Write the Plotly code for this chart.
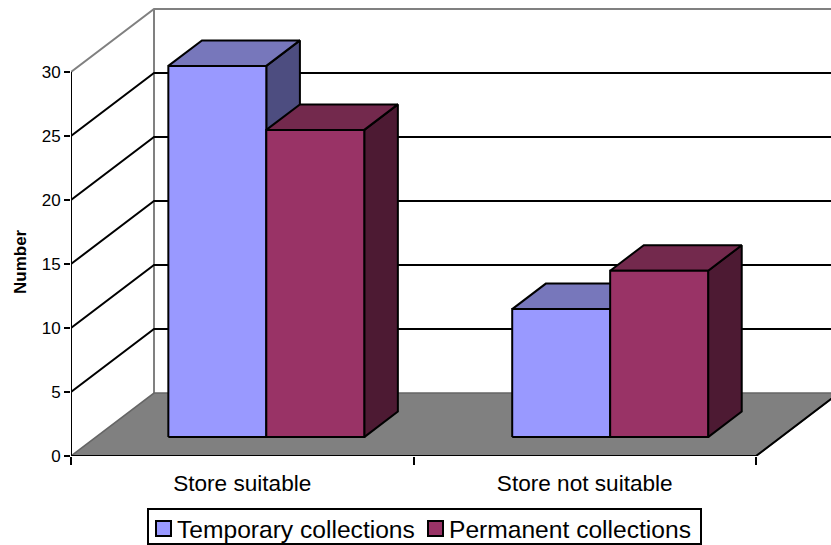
import plotly.graph_objects as go

categories = ["Store suitable", "Store not suitable"]
temporary = [29, 10]
permanent = [24, 13]
y_ticks = [0, 5, 10, 15, 20, 25, 30]
series_names = ["Temporary collections", "Permanent collections"]

FRONT = ["#9999FF", "#993366"]
TOP = ["#7777BB", "#73294D"]
SIDE = ["#4D4D80", "#4D1A33"]
FONT = "Liberation Sans"
DX = 83 / 342.5   # wall depth, x units
DY = 63 / 12.8    # wall depth, value units
GAP, BAR, PITCH = 0.2115, 0.286, 1.004
D0, D1 = 0.30, 0.705
YMAX = y_ticks[-1]
PLOT_W, PLOT_H, LEFT = 760, 456, 71


def pr(x, v, d):
    return x + d * DX, v + d * DY


def px(x):
    return (x - LEFT) / PLOT_W


def py(y):
    return (PLOT_H - y) / PLOT_H


def poly(pts, fill=None, color="black", width=2):
    xs, ys = zip(*(pts))
    return go.Scatter(x=list(xs), y=list(ys), mode="lines", showlegend=False, hoverinfo="skip",
                      fill="toself" if fill else None, fillcolor=fill,
                      line=dict(color=color, width=width))


traces = []
# back wall and side wall frame
traces.append(poly([pr(0, YMAX, 0), pr(0, YMAX, 1), pr(2.3, YMAX, 1)], color="#808080"))
traces.append(poly([pr(0, 0, 1), pr(0, YMAX, 1)], color="#808080"))
for v in y_ticks[1:-1]:
    traces.append(poly([pr(0, v, 0), pr(0, v, 1), pr(2.3, v, 1)]))
# floor
traces.append(poly([pr(0, 0, 0), pr(0, 0, 1), pr(2, 0, 1), pr(2, 0, 0), pr(0, 0, 0)], fill="#808080", color="#666666", width=1.6))
traces.append(poly([pr(2, 0, 1), pr(2, 0, 0), pr(0, 0, 0)]))
traces.append(poly([pr(0, 0, 0), pr(0, YMAX, 0)]))
# bars
for c in range(len(categories)):
    for s, vals in enumerate([temporary, permanent]):
        x0 = c * PITCH + GAP + s * BAR
        x1 = x0 + BAR
        v = vals[c]
        traces.append(poly([pr(x1, 0, D0), pr(x1, 0, D1), pr(x1, v, D1), pr(x1, v, D0), pr(x1, 0, D0)], fill=SIDE[s]))
        traces.append(poly([pr(x0, v, D0), pr(x0, v, D1), pr(x1, v, D1), pr(x1, v, D0), pr(x0, v, D0)], fill=TOP[s]))
        traces.append(poly([pr(x0, 0, D0), pr(x0, v, D0), pr(x1, v, D0), pr(x1, 0, D0), pr(x0, 0, D0)], fill=FRONT[s]))

# legend: frame, swatches, labels
shapes = [dict(type="rect", xref="paper", yref="paper", x0=px(148), x1=px(701), y0=py(544), y1=py(509),
               line=dict(color="black", width=2), fillcolor="white")]
annotations = [dict(text="<b>Number</b>", xref="paper", yref="paper", x=px(20), y=py(262),
                    textangle=-90, showarrow=False, font=dict(size=17), xanchor="center", yanchor="middle")]
for s, (name, sx, tx) in enumerate(zip(series_names, [156, 428], [175, 447])):
    shapes.append(dict(type="rect", xref="paper", yref="paper", x0=px(sx), x1=px(sx + 15), y0=py(536), y1=py(521),
                       line=dict(color="black", width=2), fillcolor=FRONT[s]))
    annotations.append(dict(text=name, xref="paper", yref="paper", x=px(tx), y=py(529), showarrow=False,
                            font=dict(size=24.6), xanchor="left", yanchor="middle"))

fig = go.Figure(traces)
fig.update_layout(
    width=831, height=545, autosize=False, showlegend=False,
    margin=dict(l=LEFT, r=0, t=0, b=545 - PLOT_H),
    paper_bgcolor="white", plot_bgcolor="white",
    font=dict(family=FONT, color="black"),
    xaxis=dict(range=[0, PLOT_W / 342.5], tickvals=[0.5, 1.5], ticktext=categories, ticks="", ticklen=0,
               ticklabelstandoff=11, tickfont=dict(size=22.6), showgrid=False, zeroline=False, showline=False, automargin=False,
               minor=dict(tickmode="array", tickvals=[0, 1, 2], ticks="outside", ticklen=8, tickwidth=2, tickcolor="black", showgrid=False)),
    yaxis=dict(range=[0, PLOT_H / 12.8], tickvals=y_ticks, ticks="outside", ticklen=6, tickwidth=2, tickcolor="black",
               tickfont=dict(size=17), showgrid=False, zeroline=False, showline=False, automargin=False),
    shapes=shapes,
    annotations=annotations,
)
fig.write_html("out.html", config={"displayModeBar": False}, post_script="document.body.style.margin='0';")
